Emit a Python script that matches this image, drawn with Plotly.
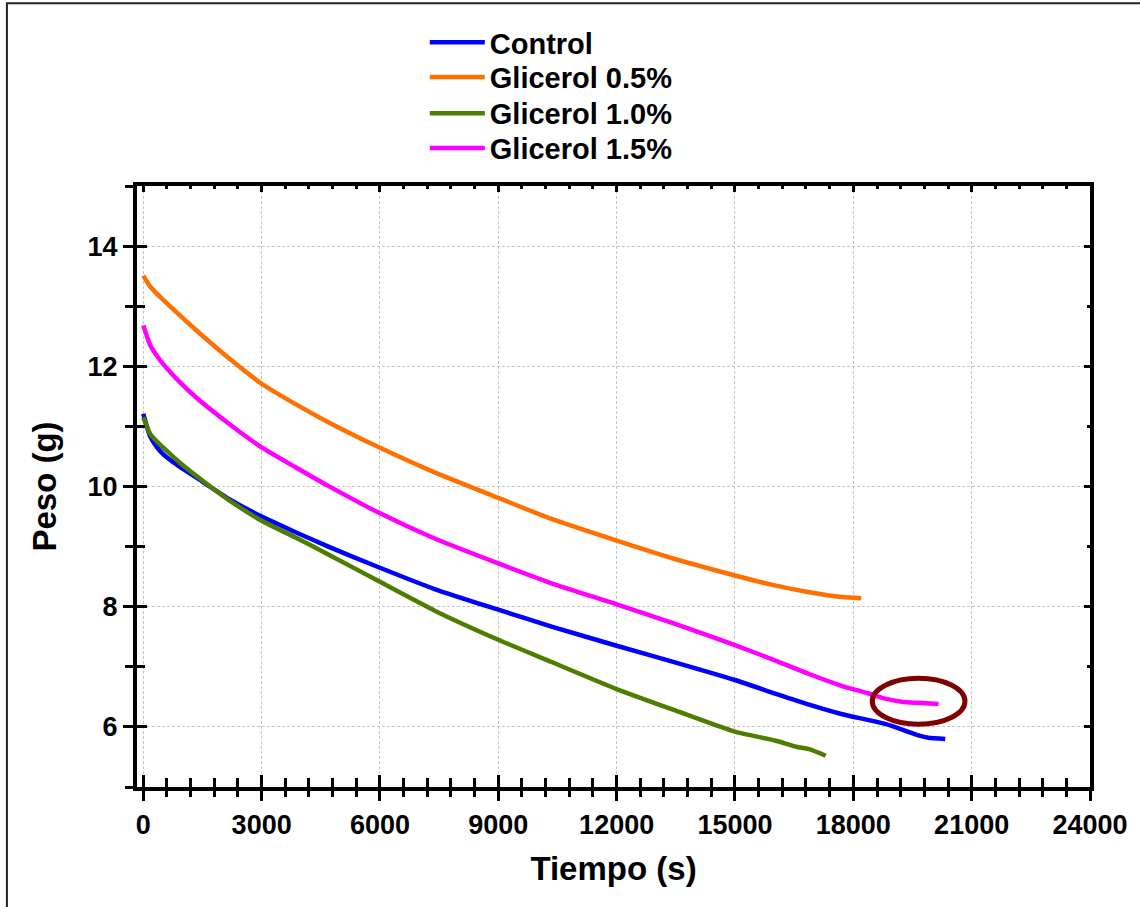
import plotly.graph_objects as go

# Weight loss over time for each formulation
series_names = ["Control", "Glicerol 0.5%", "Glicerol 1.0%", "Glicerol 1.5%"]
series_colors = ["#0000ff", "#ff7000", "#4c7f00", "#ff00ff"]

control_t = [0, 170, 340, 500, 920, 1340, 2180, 3000, 3860, 4690, 5950, 7400, 9000, 10350,
             12000, 13500, 15000, 16040, 16880, 17720, 18810, 19650, 19900, 20330]
control_w = [11.21, 10.84, 10.66, 10.54, 10.33, 10.15, 9.79, 9.50, 9.24, 9.00, 8.66, 8.29,
             7.95, 7.67, 7.35, 7.07, 6.78, 6.55, 6.37, 6.21, 6.05, 5.86, 5.82, 5.80]

g05_t = [0, 170, 340, 500, 920, 1340, 2180, 3000, 3860, 4690, 5950, 7400, 9000, 10350,
         12000, 13500, 15000, 16040, 16880, 17720, 18200]
g05_w = [13.51, 13.33, 13.21, 13.11, 12.85, 12.60, 12.13, 11.71, 11.37, 11.07, 10.66, 10.23,
         9.81, 9.46, 9.10, 8.79, 8.52, 8.35, 8.24, 8.16, 8.14]

g10_t = [0, 170, 340, 500, 920, 1340, 2180, 3000, 3860, 4690, 5950, 7400, 9000, 10350,
         12000, 13500, 15000, 16040, 16550, 16880, 17300]
g10_w = [11.15, 10.88, 10.75, 10.65, 10.40, 10.18, 9.77, 9.43, 9.15, 8.87, 8.43, 7.93,
         7.45, 7.08, 6.63, 6.27, 5.92, 5.77, 5.67, 5.63, 5.52]

g15_t = [0, 170, 340, 500, 920, 1340, 2180, 3000, 3860, 4690, 5950, 7400, 9000, 10350,
         12000, 13500, 15000, 16040, 16880, 17720, 18370, 18810, 19230, 19650, 20160]
g15_w = [12.68, 12.36, 12.18, 12.04, 11.74, 11.48, 11.04, 10.65, 10.32, 10.01, 9.57, 9.13,
         8.72, 8.39, 8.04, 7.71, 7.36, 7.10, 6.88, 6.68, 6.56, 6.47, 6.42, 6.40, 6.38]

series_t = [control_t, g05_t, g10_t, g15_t]
series_w = [control_w, g05_w, g10_w, g15_w]

# Highlighted region where the 1.5% curve levels off
highlight_t = [18480, 20830]
highlight_w = [6.045, 6.81]

x_range = [-160, 24000]
y_range = [5, 15]
x_major, x_minor = 3000, 600
y_major, y_minor = 2, 1

FONT = "Liberation Sans, Arial, sans-serif"
legend_ids = ["legend", "legend2", "legend3", "legend4"]
legend_rows = [1.239, 1.181, 1.121, 1.063]

fig = go.Figure()
for name, color, t, w, lid in zip(series_names, series_colors, series_t, series_w, legend_ids):
    fig.add_trace(go.Scatter(
        x=t, y=w, name=name, mode="lines", legend=lid,
        line=dict(color=color, width=4.5, shape="spline", smoothing=0.6),
    ))

# Empty traces so the overlay axes (inner ticks, top/right frame) get drawn
fig.add_trace(go.Scatter(x=[], y=[], xaxis="x2", yaxis="y2", showlegend=False, hoverinfo="skip"))
fig.add_trace(go.Scatter(x=[], y=[], xaxis="x3", yaxis="y3", showlegend=False, hoverinfo="skip"))

grid = dict(showgrid=True, gridcolor="#c4c4c4", gridwidth=1, griddash="3px,2px")
tickfont = dict(family=FONT, size=27, color="black", weight="bold")
titlefont = dict(family=FONT, size=33, color="black", weight="bold")


def inner_axis(**kw):
    return dict(
        range=kw.pop("rng"), dtick=kw.pop("major"), tick0=0, ticks="inside",
        ticklen=kw.pop("len"), tickwidth=3, tickcolor="black",
        showticklabels=False, showgrid=False, zeroline=False,
        minor=dict(dtick=kw.pop("minor"), tick0=0, ticks="inside",
                   ticklen=kw.pop("mlen"), tickwidth=3, tickcolor="black"),
        **kw,
    )


fig.update_layout(
    # Primary axes: labels, outward halves of the ticks, grid
    xaxis=dict(
        range=x_range, dtick=x_major, tick0=0, tickformat="d",
        ticks="outside", ticklen=10, tickwidth=3, tickcolor="black",
        minor=dict(dtick=x_minor, tick0=0, ticks="outside", ticklen=6,
                   tickwidth=3, tickcolor="black"),
        showline=True, linewidth=4, linecolor="black", zeroline=False,
        tickfont=tickfont, ticklabelstandoff=1,
        title=dict(text="Tiempo (s)", standoff=18, font=titlefont),
        **grid,
    ),
    yaxis=dict(
        range=y_range, dtick=y_major, tick0=0,
        ticks="outside", ticklen=10, tickwidth=3, tickcolor="black",
        minor=dict(dtick=y_minor, tick0=0, ticks="outside", ticklen=8,
                   tickwidth=3, tickcolor="black"),
        showline=True, linewidth=4, linecolor="black", zeroline=False,
        tickfont=tickfont, ticklabelstandoff=0,
        title=dict(text="Peso (g)", standoff=22, font=titlefont),
        **grid,
    ),
    # Inward halves of the crossing ticks on bottom/left
    xaxis2=inner_axis(overlaying="x", anchor="y", side="bottom", rng=x_range,
                      major=x_major, minor=x_minor, len=12, mlen=9, showline=False),
    yaxis2=inner_axis(overlaying="y", anchor="x", side="left", rng=y_range,
                      major=y_major, minor=y_minor, len=10, mlen=8, showline=False),
    # Top and right frame with short inward ticks
    xaxis3=inner_axis(overlaying="x", anchor="y", side="top", rng=x_range,
                      major=x_major, minor=x_minor, len=6, mlen=3,
                      showline=True, linewidth=4, linecolor="black"),
    yaxis3=inner_axis(overlaying="y", anchor="x", side="right", rng=y_range,
                      major=y_major, minor=y_minor, len=6, mlen=3,
                      showline=True, linewidth=4, linecolor="black"),
)

fig.add_shape(
    type="circle", xref="x", yref="y",
    x0=highlight_t[0], x1=highlight_t[1], y0=highlight_w[0], y1=highlight_w[1],
    line=dict(color="#800000", width=5),
)

# Outer frame around the figure
fig.add_shape(
    type="rect", xref="paper", yref="paper",
    x0=-0.1365, x1=1.06, y0=-0.22, y1=1.304,
    line=dict(color="#222222", width=2), layer="below",
)

legend_style = dict(
    xanchor="left", yanchor="middle", bgcolor="rgba(0,0,0,0)", itemwidth=55,
    font=dict(family=FONT, size=29, color="black", weight="bold"),
)
fig.update_layout(
    width=1140, height=907,
    margin=dict(l=137, r=48, t=186, b=120),
    paper_bgcolor="white", plot_bgcolor="white",
    showlegend=True,
    **{lid: dict(x=0.302, y=yy, **legend_style) for lid, yy in zip(legend_ids, legend_rows)},
)

fig.write_html("out.html")
